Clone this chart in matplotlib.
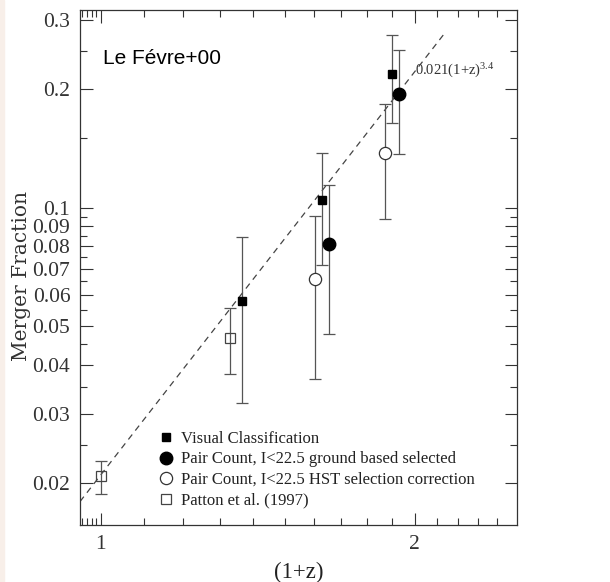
import matplotlib
matplotlib.use("Agg")
import matplotlib.pyplot as plt
import numpy as np
from matplotlib.ticker import FixedLocator, FixedFormatter, NullFormatter
from matplotlib.lines import Line2D

# ---- data ----
patton_x = [1.00, 1.33]
patton_y = [0.0208, 0.0467]
patton_lo = [0.0188, 0.0379]
patton_hi = [0.0228, 0.0556]

visual_x = [1.367, 1.631, 1.901]
visual_y = [0.058, 0.1046, 0.2188]
visual_lo = [0.0319, 0.0717, 0.1637]
visual_hi = [0.0841, 0.1378, 0.274]

pair_x = [1.653, 1.931]
pair_y = [0.0807, 0.194]
pair_lo = [0.0479, 0.1369]
pair_hi = [0.1142, 0.2513]

hst_x = [1.605, 1.873]
hst_y = [0.0658, 0.138]
hst_lo = [0.0368, 0.0937]
hst_hi = [0.0953, 0.1833]

fit_norm = 0.021
fit_slope = 3.4
fit_x_range = [0.955, 2.13]

y_major = [0.02, 0.03, 0.04, 0.05, 0.06, 0.07, 0.08, 0.09, 0.1, 0.2, 0.3]
y_major_labels = ["0.02", "0.03", "0.04", "0.05", "0.06", "0.07", "0.08", "0.09", "0.1", "0.2", "0.3"]
y_minor = [0.025, 0.035, 0.045, 0.055, 0.065, 0.075, 0.085, 0.095, 0.15, 0.25]
x_major = [1, 2]
x_major_labels = ["1", "2"]
x_minor = [0.96, 0.97, 0.98, 0.99, 1.1, 1.2, 1.3, 1.4, 1.5, 1.6, 1.7, 1.8, 1.9, 2.1, 2.2, 2.3, 2.4]

legend_labels = ["Visual Classification",
                 "Pair Count, I<22.5 ground based selected",
                 "Pair Count, I<22.5 HST selection correction",
                 "Patton et al. (1997)"]

SERIF = "Liberation Serif"

fig = plt.figure(figsize=(6.10, 5.82), dpi=100)
fig.patch.set_facecolor("white")
# faint strip at the far left of the picture
fig.add_artist(plt.Rectangle((0, 0), 4 / 610, 1, transform=fig.transFigure,
                             color="#f8efe9", zorder=-10))

ax = fig.add_axes([80 / 610, 57 / 582, 437 / 610, 515 / 582])
ax.set_xscale("log")
ax.set_yscale("log")
ax.set_xlim(0.955, 2.506)
ax.set_ylim(0.01566, 0.3176)

err_kw = dict(fmt="none", ecolor="#555555", elinewidth=0.9, capsize=4.3, capthick=0.9, zorder=2)

def yerr(y, lo, hi):
    y = np.array(y); return [y - np.array(lo), np.array(hi) - y]

ax.errorbar(patton_x, patton_y, yerr=yerr(patton_y, patton_lo, patton_hi), **err_kw)
ax.errorbar(visual_x, visual_y, yerr=yerr(visual_y, visual_lo, visual_hi), **err_kw)
ax.errorbar(pair_x, pair_y, yerr=yerr(pair_y, pair_lo, pair_hi), **err_kw)
ax.errorbar(hst_x, hst_y, yerr=yerr(hst_y, hst_lo, hst_hi), **err_kw)

# fit line
fx = np.geomspace(fit_x_range[0], fit_x_range[1], 50)
ax.plot(fx, fit_norm * fx ** fit_slope, ls=(0, (5, 4)), color="#444444", lw=0.9, zorder=1)

ax.plot(patton_x, patton_y, "s", ms=6.5, mfc="none", mec="#444444", mew=0.9, zorder=3)
ax.plot(hst_x, hst_y, "o", ms=8.8, mfc="white", mec="#333333", mew=0.9, zorder=3)
ax.plot(visual_x, visual_y, "s", ms=6.4, mfc="black", mec="black", zorder=4)
ax.plot(pair_x, pair_y, "o", ms=9.0, mfc="black", mec="black", zorder=4)

# ticks
ax.yaxis.set_major_locator(FixedLocator(y_major))
ax.yaxis.set_major_formatter(FixedFormatter(y_major_labels))
ax.yaxis.set_minor_locator(FixedLocator(y_minor))
ax.yaxis.set_minor_formatter(NullFormatter())
ax.xaxis.set_major_locator(FixedLocator(x_major))
ax.xaxis.set_major_formatter(FixedFormatter(x_major_labels))
ax.xaxis.set_minor_locator(FixedLocator(x_minor))
ax.xaxis.set_minor_formatter(NullFormatter())
ax.tick_params(which="both", direction="in", top=True, right=True, color="#333333", width=0.8)
ax.tick_params(which="major", length=9, labelsize=15.5, pad=7)
ax.tick_params(which="minor", length=5)
for lab in ax.get_xticklabels() + ax.get_yticklabels():
    lab.set_family(SERIF)
    lab.set_color("#333333")
for s in ax.spines.values():
    s.set_color("#333333")
    s.set_linewidth(0.9)

ax.set_xlabel("(1+z)", family=SERIF, fontsize=16.5, color="#222222", labelpad=6)
ax.set_ylabel("Merger Fraction", family="DejaVu Serif", fontsize=14.5, color="#333333")
ax.yaxis.set_label_coords(-0.113, 0.4835)

ax.text(0.053, 0.905, "Le F\u00e9vre+00", transform=ax.transAxes, family="Liberation Sans",
        fontsize=15, color="black", va="center", ha="left")
ax.text(2.0, 0.222, r"$\mathregular{0.021(1{+}z)^{3.4}}$", family=SERIF, fontsize=10.5,
        color="#333333", va="center", ha="left")

handles = [
    Line2D([], [], ls="none", marker="s", ms=6.2, mfc="black", mec="black"),
    Line2D([], [], ls="none", marker="o", ms=9.0, mfc="black", mec="black"),
    Line2D([], [], ls="none", marker="o", ms=8.8, mfc="white", mec="#333333", mew=0.9),
    Line2D([], [], ls="none", marker="s", ms=6.5, mfc="none", mec="#444444", mew=0.9),
]
leg = ax.legend(handles, legend_labels, loc="upper left", bbox_to_anchor=(0.178, 0.183),
                frameon=False, borderpad=0, borderaxespad=0, handlelength=0.95,
                handletextpad=0.42, labelspacing=0.28, prop={"family": SERIF, "size": 12})
for t in leg.get_texts():
    t.set_color("#222222")

fig.savefig("out.png", dpi=100)
